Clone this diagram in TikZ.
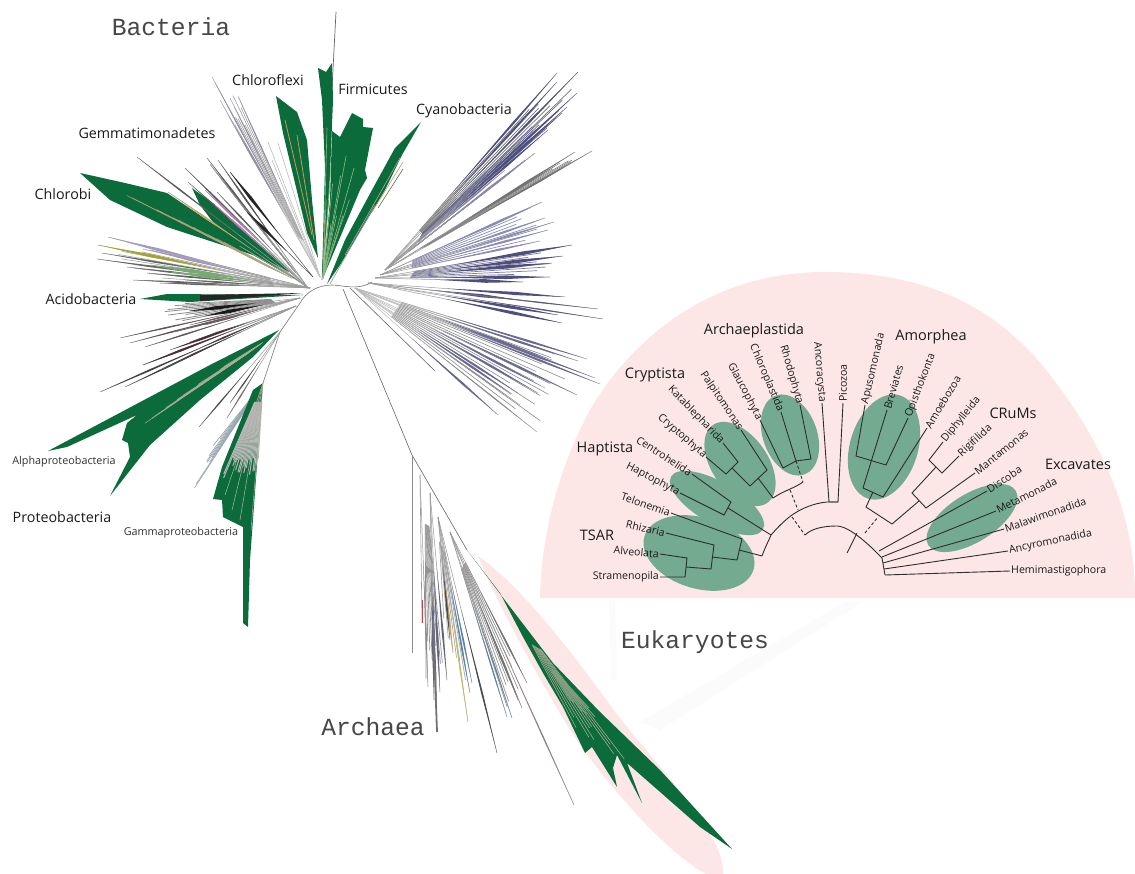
\documentclass[tikz,border=0pt]{standalone}
\usepackage{fontspec}
\setmainfont{Open Sans}
\newfontfamily\courierish{Liberation Mono}
\usetikzlibrary{calc,shapes.geometric}
\definecolor{treegreen}{HTML}{0B6B3A}
\definecolor{blobgreen}{HTML}{74AB90}
\definecolor{pinkbg}{HTML}{FCE6E6}
\definecolor{labelink}{HTML}{1A1A1A}
\definecolor{branchink}{HTML}{2E2E2E}
\definecolor{stem}{HTML}{9A9A9A}
\definecolor{purpledark}{HTML}{4F4F7E}
\definecolor{purplesoft}{HTML}{8C8CB4}
\definecolor{stripe}{HTML}{A9AD98}
\definecolor{olive}{HTML}{A7A22B}
\definecolor{bluetip}{HTML}{5C86A8}
\definecolor{tantip}{HTML}{C8A36A}
\definecolor{maroontip}{HTML}{4F2E3A}
\definecolor{lavtip}{HTML}{A49ABD}
\tikzset{
  domain label/.style={font=\courierish\fontsize{24.6}{26}\selectfont,text=black!72,inner sep=0pt},
  phylum label/.style={font=\fontsize{14.3}{16}\selectfont,text=labelink,inner sep=0pt},
  small label/.style={font=\fontsize{10.8}{12}\selectfont,text=labelink!90,inner sep=0pt},
  group label/.style={font=\fontsize{14.5}{16}\selectfont,text=labelink,inner sep=0pt},
  leaf label/.style={font=\fontsize{10.6}{12}\selectfont,text=labelink,inner sep=1pt},
  blob/.style={ellipse,fill=blobgreen,draw=none,inner sep=0pt},
  branch/.style={draw=branchink,line width=.9pt,line join=miter},
  dashbranch/.style={draw=branchink,line width=.9pt,dashed,dash pattern=on 3pt off 2.2pt},
  greenwedge/.style={fill=treegreen,draw=none},
}
% spindle-tipped branch: base x, base y, stem colour, tip colour, half width, tips
\newcommand{\fanout}[6]{%
  \foreach \tx/\ty in {#6}{%
    \draw[line width=.5pt,#3] (#1,#2) -- (\tx,\ty);
    \fill[#4] ($(#1,#2)!.4!(\tx,\ty)$) -- ($(#1,#2)!.75!(\tx,\ty)!#5!90:(\tx,\ty)$)
       -- (\tx,\ty) -- ($(#1,#2)!.75!(\tx,\ty)!#5!-90:(\tx,\ty)$) -- cycle;
  }}
% thin lines only
\newcommand{\thinfan}[4]{%
  \foreach \tx/\ty in {#4}{\draw[line width=.55pt,#3] (#1,#2) -- (\tx,\ty);}}
% many soft lines swept between two tips: bx by x1 y1 x2 y2 n style
\newcommand{\sweep}[8]{%
  \foreach \i in {0,...,#7}{%
    \pgfmathsetmacro\ff{\i/#7}
    \pgfmathsetmacro\ll{0.78+0.22*rnd}
    \coordinate (T) at ($(#3,#4)!\ff!(#5,#6)$);
    \draw[#8] ($(#1,#2)!.2!(T)$) -- ($(#1,#2)!\ll!(T)$);
  }}
\begin{document}
\begin{tikzpicture}[x=1pt,y=-1pt]
\useasboundingbox (0,0) rectangle (1135,874);
\fill[white] (0,0) rectangle (1135,874);
\pgfmathsetseed{7}

% ---- pink backgrounds
\fill[pinkbg] (540,598) .. controls (541,550) and (552,480) .. (590,410)
  .. controls (625,350) and (700,272) .. (825,272)
  .. controls (930,272) and (1000,310) .. (1050,375)
  .. controls (1100,440) and (1135,510) .. (1135,598) -- cycle;
\fill[pinkbg] (478,556) .. controls (520,585) and (570,650) .. (610,705)
  .. controls (650,760) and (725,830) .. (723,874)
  -- (706,874) .. controls (670,855) and (610,790) .. (570,730)
  .. controls (540,680) and (500,610) .. (478,556) -- cycle;
% faint wedge behind the Eukaryotes label
\fill[black!1.5] (640,722) -- (845,602) -- (862,602) -- (660,730) -- cycle;
\fill[black!1.5] (609,600) -- (615,600) -- (617,680) -- (611,680) -- cycle;

% ---- root of the big tree
\draw[line width=.6pt,black!55] (263,383) -- (280,332) -- (300,303)
  .. controls (306,292) and (318,285) .. (332,285)
  .. controls (342,285) and (358,291) .. (372,282);
\draw[line width=.6pt,black!60] (343,289) -- (412,455) -- (467,550);
\draw[line width=.6pt,black!60] (350,288) -- (435,371);

% ---- Bacteria: upper-left fans
\thinfan{320}{277}{stem!70}{268/142,278/143,262/150,272/160}
\sweep{320}{277}{212}{77}{238}{96}{7}{line width=.55pt,stem}
\fanout{320}{277}{stem!60}{lavtip!60!gray}{.7pt}{212/77,220/100,230/98,238/96,228/115,235/125}
\draw[line width=.7pt,black!60] (322,280) -- (336,12);

\fill[greenwedge] (80,173) -- (125,183) -- (167,193) -- (210,222) -- (304,284)
  -- (253,255) -- (167,227) -- (110,200) -- cycle;
\sweep{308}{287}{110}{187}{205}{232}{9}{line width=.5pt,stripe!70!brown}
\sweep{308}{287}{195}{195}{230}{245}{6}{line width=.7pt,stripe}
\fill[greenwedge] (192,188) -- (215,205) -- (295,275) -- (225,238) -- (200,205) -- cycle;
\sweep{308}{288}{205}{158}{247}{212}{12}{line width=.7pt,black!45}
\fanout{308}{288}{stem}{black!65}{.8pt}{137/157,185/168,188/182,207/158,218/160,217/192,225/170}
\fanout{308}{288}{stem}{tantip}{1pt}{168/192}
\fanout{308}{288}{stem}{maroontip!65!magenta!60!white}{1pt}{205/190,215/205}
\fanout{313}{277}{black!70}{black!85}{1.6pt}{230/172,247/212}

\fill[greenwedge] (276,96) -- (297,112) -- (307,140) -- (312,200) -- (318,258)
  -- (307,233) -- (283,133) -- cycle;
\draw[line width=.8pt,tantip!70!brown] (285,120) -- (312,235);
\draw[line width=.8pt,tantip!70!brown] (297,135) -- (314,240);

% Firmicutes
\fill[greenwedge] (318,68) -- (326,72) -- (332,63) -- (333,100) -- (329,200) -- (322,278)
  -- (325,167) -- (322,100) -- cycle;
\fill[greenwedge] (332,131) -- (340,137) -- (352,113) -- (363,119) -- (363,127) -- (373,128)
  -- (365,170) -- (367,178) -- (360,190) -- (323,278) -- (330,200) -- cycle;
\foreach \tx/\ty in {333/135,345/150,352/125,362/140,356/180,335/160,328/90,327/180,340/200,348/200,333/210}
  \draw[line width=.6pt,stripe!85!green] (323,278) -- ($(323,278)!.8!(\tx,\ty)$);

% Cyanobacteria
\fill[greenwedge] (421,122) -- (395,148) -- (372,190) -- (345,240) -- (327,284)
  -- (340,265) -- (370,215) -- (385,190) -- (402,155) -- cycle;
\draw[line width=.6pt,stem] (330,284) -- (375,205);
\draw[line width=.6pt,tantip!80!brown] (372,212) -- (403,162);
\draw[line width=.6pt,black!60] (378,208) -- (403,169);
\draw[line width=.6pt,stripe] (345,255) -- (400,158);

% ---- Bacteria: left side fans
\sweep{310}{288}{108}{237}{130}{280}{10}{line width=.6pt,stem!90}
\fanout{310}{288}{stem}{lavtip}{1.5pt}{108/237,150/250}
\fanout{310}{288}{stem}{olive}{1.5pt}{98/245}
\fanout{310}{288}{stem}{black!60}{.9pt}{102/253,97/259,127/267,147/273,133/280,160/283,185/280}
\fanout{310}{288}{stem}{stripe!70!green!60!gray}{2pt}{150/265,170/272}

\fill[greenwedge] (140,299) -- (167,294) -- (303,295) -- (190,302) -- cycle;
\fill[black!85] (200,295) -- (303,293) -- (200,301) -- cycle;
\sweep{300}{298}{155}{305}{175}{322}{10}{line width=.8pt,black!45}
\fanout{300}{298}{stem}{black!90}{1.8pt}{190/311,205/316}
\fanout{300}{298}{stem}{maroontip!50!gray}{.8pt}{120/338,130/343,145/347,190/325,205/325,175/332}
\fanout{296}{306}{stem}{black!75}{.9pt}{100/392,125/387,143/365,190/342,200/348,160/370}
\fanout{296}{306}{stem}{maroontip}{1.1pt}{143/365,170/350}

% Alphaproteobacteria
\fill[greenwedge] (279,330) -- (210,365) -- (48,451) -- (67,447) -- (137,415) -- (127,423)
  -- (122,440) -- (128,443) -- (130,457) -- (110,496) -- (150,445) -- (200,400) -- (253,357) -- cycle;
\sweep{275}{335}{135}{430}{215}{372}{14}{line width=.5pt,stripe}

% mid lines to Gammaproteobacteria
\fanout{280}{332}{stem}{black!70}{.7pt}{199/427,230/403}
\fanout{280}{332}{stem}{maroontip!70!white}{.7pt}{227/418}
\sweep{263}{383}{190}{495}{212}{447}{8}{line width=.6pt,bluetip!45!gray!75}

% Gammaproteobacteria
\fill[greenwedge] (263,383) -- (250,560) -- (248,627) -- (243,623) -- (243,527) -- (223,517)
  -- (222,500) -- (213,499) -- (222,467) -- (253,390) -- cycle;
\sweep{263}{383}{222}{478}{257}{478}{22}{line width=1pt,black!28}
\thinfan{263}{383}{stripe}{232/510,240/520,251/530,225/495}

% ---- Bacteria: right side purple fans
\sweep{385}{270}{557}{73}{578}{93}{8}{line width=.7pt,black!55}
\sweep{385}{270}{570}{90}{548}{130}{7}{line width=.7pt,purpledark!85}
\sweep{385}{270}{535}{153}{500}{180}{7}{line width=.6pt,purplesoft!70!gray}
\sweep{385}{270}{592}{151}{560}{163}{5}{line width=.6pt,black!50}
\sweep{380}{275}{542}{202}{540}{241}{9}{line width=.7pt,purplesoft}
\sweep{375}{278}{572}{245}{550}{277}{9}{line width=.7pt,purpledark!75}
\fanout{385}{270}{stem}{purpledark}{1.1pt}{557/73,578/72,577/93,557/82,567/107,562/113,548/130}
\fanout{385}{270}{stem}{purplesoft!80!gray}{1pt}{535/153,525/160,505/170}
\fanout{385}{270}{stem}{black!55}{1pt}{592/151,575/152,560/163}
\fanout{380}{275}{stem}{purplesoft}{1.1pt}{542/202,530/208,545/218,554/222,548/230,540/241}
\fanout{375}{278}{stem}{purpledark}{1.8pt}{572/245,563/256,552/263,550/277,523/282}
\fanout{368}{283}{stem}{purpledark}{1.6pt}{565/297,558/315,562/323,520/300}
\fanout{368}{283}{stem}{purpledark!70!gray}{.7pt}{598/309,603/319}
\sweep{355}{288}{587}{359}{537}{432}{16}{line width=.6pt,black!45}
\fanout{355}{288}{stem!70}{purpledark!85}{1.1pt}{498/415,518/393,512/394,538/393,545/388,577/395,600/384,595/378,587/359,578/361,552/360}
\fanout{355}{288}{stem!70}{black!45}{.6pt}{537/432,520/405}

% ---- Archaea
\draw[line width=.6pt,black!45] (412,455) -- (412,653);
\fanout{420}{475}{stem}{black!45}{.8pt}{428/687}
\draw[line width=.6pt,stem] (420,475) -- (422,623);
\draw[line width=.8pt,red!60!black!70] (422,600) -- (422,623);
\sweep{425}{485}{426}{680}{445}{690}{8}{line width=.7pt,black!42}
\fanout{430}{493}{stem}{purpledark!60!gray}{1pt}{437/732,440/692,447/680,434/700}
\draw[line width=1.8pt,black!55] (433,620) -- (437,732);
\sweep{438}{517}{445}{640}{470}{690}{6}{line width=.7pt,black!35}
\fanout{438}{517}{stem}{tantip}{1pt}{453/653}
\fanout{438}{517}{stem}{olive!70!white}{.8pt}{468/722}
\fanout{438}{517}{stem}{bluetip}{.9pt}{472/683,470/693}
\fanout{438}{517}{stem}{black!70}{.9pt}{497/753,450/640}
\sweep{450}{532}{507}{717}{527}{683}{9}{line width=.7pt,black!42}
\fanout{450}{532}{stem}{black!55}{.9pt}{527/683,518/700,522/708}
\fanout{450}{532}{stem}{bluetip!70!gray}{.7pt}{512/718,507/717}
\fanout{450}{532}{stem}{maroontip!60!white}{.7pt}{574/805}

\fill[greenwedge] (467,550) -- (507,603) -- (553,663) -- (600,712) -- (660,770) -- (732,849)
  -- (700,827) -- (627,763) -- (642,803) -- (617,755) -- (613,768) -- (617,787) -- (592,747)
  -- (585,753) -- (563,707) -- (543,673) -- (523,637) -- (500,593) -- cycle;
\sweep{520}{622}{580}{735}{625}{760}{8}{line width=.55pt,stripe}
\sweep{545}{660}{578}{712}{598}{718}{7}{line width=.9pt,stripe!75!treegreen}

% ---- Eukaryote groups
\node[blob,minimum width=114pt,minimum height=71pt,rotate=-17] (tsarblob) at (699,553) {};
\node[blob,minimum width=106pt,minimum height=42pt,rotate=-30] (haptistablob) at (717,503) {};
\node[blob,minimum width=95pt,minimum height=56pt,rotate=-55] (cryptistablob) at (740,464) {};
\node[blob,minimum width=84pt,minimum height=54pt,rotate=-70] (archaeoblob) at (790,435) {};
\node[blob,minimum width=108pt,minimum height=68pt,rotate=73] (amorpheablob) at (884,447) {};
\node[blob,minimum width=103pt,minimum height=48pt,rotate=32] (excavateblob) at (972,518) {};

% ---- Eukaryote leaves
\node[leaf label,anchor=east] (stramenopila) at (660,577) {Stramenopila};
\node[leaf label,anchor=east,rotate=-5] (alveolata) at (660,554) {Alveolata};
\node[leaf label,anchor=east,rotate=-13] (rhizaria) at (666,533) {Rhizaria};
\node[leaf label,anchor=east,rotate=-19] (telonemia) at (671,513) {Telonemia};
\node[leaf label,anchor=east,rotate=-27] (haptophyta) at (680,493) {Haptophyta};
\node[leaf label,anchor=east,rotate=-33] (centrohelida) at (692,474) {Centrohelida};
\node[leaf label,anchor=east,rotate=-41] (cryptophyta) at (706,457) {Cryptophyta};
\node[leaf label,anchor=east,rotate=-46] (katablepharida) at (723,443) {Katablepharida};
\node[leaf label,anchor=east,rotate=-56] (palpitomonas) at (741,430) {Palpitomonas};
\node[leaf label,anchor=east,rotate=-62] (glaucophyta) at (760,420) {Glaucophyta};
\node[leaf label,anchor=east,rotate=-67] (chloroplastida) at (781,412) {Chloroplastida};
\node[leaf label,anchor=east,rotate=-74] (rhodophyta) at (800,405) {Rhodophyta};
\node[leaf label,anchor=east,rotate=-85] (ancoracysta) at (822,403) {Ancoracysta};
\node[leaf label,anchor=west,rotate=90] (picozoa) at (843,403) {Picozoa};
\node[leaf label,anchor=west,rotate=77] (apusomonada) at (865,405) {Apusomonada};
\node[leaf label,anchor=west,rotate=74] (breviates) at (887,410) {Breviates};
\node[leaf label,anchor=west,rotate=69] (opisthokonta) at (908,418) {Opisthokonta};
\node[leaf label,anchor=west,rotate=59] (amoebozoa) at (927,428) {Amoebozoa};
\node[leaf label,anchor=west,rotate=51] (diphylleida) at (943,442) {Diphylleida};
\node[leaf label,anchor=west,rotate=43] (rigifilida) at (959,456) {Rigifilida};
\node[leaf label,anchor=west,rotate=39] (mantamonas) at (975,473) {Mantamonas};
\node[leaf label,anchor=west,rotate=34] (discoba) at (987,491) {Discoba};
\node[leaf label,anchor=west,rotate=27] (metamonada) at (996,511) {Metamonada};
\node[leaf label,anchor=west,rotate=19] (malawimonadida) at (1004,529) {Malawimonadida};
\node[leaf label,anchor=west,rotate=12] (ancyromonadida) at (1008,551) {Ancyromonadida};
\node[leaf label,anchor=west] (hemimastigophora) at (1010,571) {Hemimastigophora};

% ---- Eukaryote internal nodes
\coordinate (sa1) at (685,577); \coordinate (sa2) at (687,558); \coordinate (sam) at (686,567);
\coordinate (sa3) at (711,569); \coordinate (rh1) at (714,545); \coordinate (sarm) at (712,557);
\coordinate (sar3) at (737,560); \coordinate (te1) at (742,539); \coordinate (tsm) at (739,550);
\coordinate (ts3) at (762,556);
\coordinate (ha1) at (724,515); \coordinate (ce1) at (731,502); \coordinate (ham) at (728,508);
\coordinate (hab) at (771,535);
\coordinate (ka1) at (738,462); \coordinate (cr1) at (726,474); \coordinate (kam) at (732,468);
\coordinate (ka3) at (750,486); \coordinate (pa1) at (767,470); \coordinate (pam) at (758,478);
\coordinate (pa3) at (773,498); \coordinate (cpe) at (803,482);
\coordinate (gl1) at (783,468); \coordinate (ch1) at (796,461); \coordinate (rh2) at (811,459);
\coordinate (dsA) at (790,490); \coordinate (dsB) at (798,510); \coordinate (dsC) at (792,517);
\coordinate (dsD) at (805,535);
\coordinate (bbA) at (792,515); \coordinate (bbB) at (827,502); \coordinate (bbC) at (838,502);
\coordinate (in1) at (837,526); \coordinate (in2) at (857,533); \coordinate (in3) at (882,558);
\coordinate (in4) at (885,575); \coordinate (inS) at (847,553);
\coordinate (ap1) at (856,456); \coordinate (op1) at (886,465); \coordinate (apm) at (871,461);
\coordinate (br1) at (863,488); \coordinate (am1) at (883,497); \coordinate (brm) at (873,492);
\coordinate (am3) at (866,507); \coordinate (am4) at (892,524);
\coordinate (di1) at (929,460); \coordinate (ri1) at (942,473); \coordinate (dim) at (936,467);
\coordinate (cr3) at (912,493); \coordinate (ma1) at (926,508); \coordinate (crm) at (919,501);
\coordinate (ds2A) at (865,533); \coordinate (ds2B) at (878,517);
\coordinate (ex1) at (879,551); \coordinate (ex2) at (882,557); \coordinate (ex3) at (883,563);
\coordinate (ex4) at (884,569);

% ---- Eukaryote branches
\draw[branch] (stramenopila.east) -- (sa1) -- (sa2) -- (alveolata.east);
\draw[branch] (sam) -- (sa3) -- (rh1) -- (rhizaria.east);
\draw[branch] (sarm) -- (sar3) -- (te1) -- (telonemia.east);
\draw[branch] (tsm) -- (ts3);
\draw[branch] (ts3) .. controls (766,545) and (770,538) .. (hab) .. controls (778,527) and (785,520) .. (bbA)
   .. controls (802,508) and (815,503) .. (bbB) -- (bbC);
\draw[branch] (haptophyta.east) -- (ha1) -- (ce1) -- (centrohelida.east);
\draw[branch] (ham) -- (hab);
\draw[branch] (katablepharida.east) -- (ka1) -- (cr1) -- (cryptophyta.east);
\draw[branch] (kam) -- (ka3) -- (pa1) -- (palpitomonas.east);
\draw[branch] (pam) -- (pa3) .. controls (785,490) and (795,488) .. (cpe);
\draw[branch] (glaucophyta.east) -- (gl1) -- (ch1) -- (rh2) -- (rhodophyta.east);
\draw[branch] (ch1) -- (chloroplastida.east);
\draw[dashbranch] (ch1) -- (cpe);
\draw[dashbranch] (dsA) -- (dsB);
\draw[dashbranch] (dsC) -- (dsD);
\draw[branch] (ancoracysta.east) -- (829,502) -- (bbC) -- (picozoa.west);
\draw[branch] (dsD) .. controls (812,528) and (825,526) .. (in1) .. controls (845,526) and (860,535) .. (in3)
   -- (in4);
\draw[branch] (in2) -- (inS);
\draw[branch] (apusomonada.west) -- (ap1) -- (op1) -- (opisthokonta.west);
\draw[branch] (breviates.west) -- (br1) -- (am1) -- (amoebozoa.west);
\draw[branch] (brm) -- (am3) -- (am4);
\draw[branch] (diphylleida.west) -- (di1) -- (ri1) -- (rigifilida.west);
\draw[branch] (dim) -- (cr3) -- (ma1) -- (mantamonas.west);
\draw[branch] (crm) -- (am4);
\draw[dashbranch] (ds2A) -- (ds2B);
\draw[branch] (discoba.west) -- (ex1);
\draw[branch] (metamonada.west) -- (ex2);
\draw[branch] (malawimonadida.west) -- (ex3);
\draw[branch] (ancyromonadida.west) -- (ex4);
\draw[branch] (hemimastigophora.west) -- (in4);

% ---- Group labels
\node[group label] (archaeplastida) at (754,331) {Archaeplastida};
\node[group label] (amorphea) at (931,337) {Amorphea};
\node[group label] (cryptista) at (655,375) {Cryptista};
\node[group label] (crums) at (1013,413) {CRuMs};
\node[group label] (haptista) at (605,449) {Haptista};
\node[group label] (excavates) at (1078,464) {Excavates};
\node[group label] (tsar) at (597,535) {TSAR};

% ---- Bacteria labels
\node[domain label] (bacteria) at (171,27) {Bacteria};
\node[domain label] (eukaryotes) at (695,642) {Eukaryotes};
\node[domain label] (archaea) at (373,727) {Archaea};
\node[phylum label] (chloroflexi) at (268,80) {Chloroflexi};
\node[phylum label] (firmicutes) at (373,89) {Firmicutes};
\node[phylum label] (cyanobacteria) at (464,111) {Cyanobacteria};
\node[phylum label] (gemmatimonadetes) at (147,133) {Gemmatimonadetes};
\node[phylum label] (chlorobi) at (63,194) {Chlorobi};
\node[phylum label] (acidobacteria) at (91,299) {Acidobacteria};
\node[phylum label] (proteobacteria) at (62,517) {Proteobacteria};
\node[small label] (alphaproteobacteria) at (64,462) {Alphaproteobacteria};
\node[small label] (gammaproteobacteria) at (181,533) {Gammaproteobacteria};
\end{tikzpicture}
\end{document}
